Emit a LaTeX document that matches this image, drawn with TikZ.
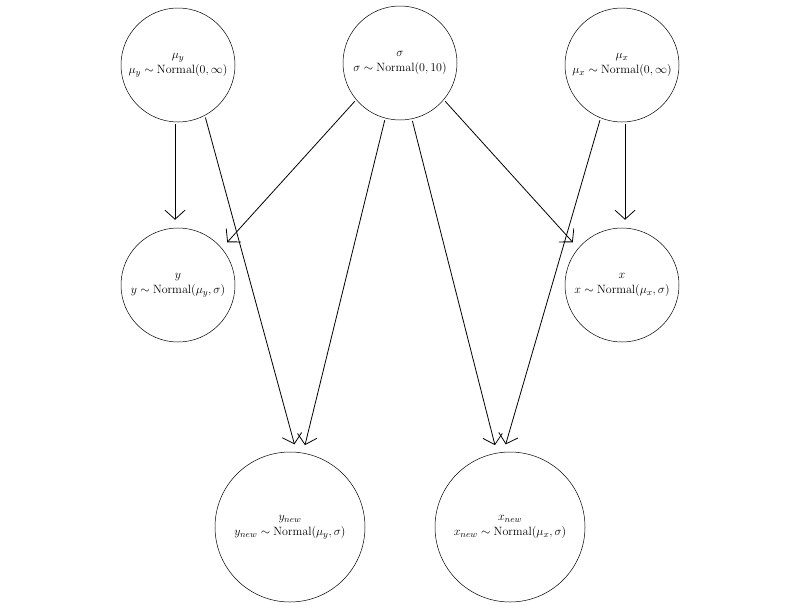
\documentclass[tikz,border=0pt]{standalone}
\usetikzlibrary{arrows.meta}
\begin{document}
\begin{tikzpicture}[x=1pt,y=-1pt,
  v/.style={circle,draw,line width=0.5pt,inner sep=0pt,align=center,font=\fontsize{13}{15}\selectfont},
  sm/.style={minimum size=114pt},
  lg/.style={minimum size=150pt},
  e/.style={line width=0.8pt,-{Straight Barb[length=9pt,width=20pt]},shorten >=8pt,shorten <=2pt}]
\useasboundingbox (0,0) rectangle (800,608);
\node[v,sm] (muy) at (178,65) {$\mu_y$\\$\mu_y\sim\mathrm{Normal}(0,\infty)$};
\node[v,sm] (s) at (400,63) {$\sigma$\\$\sigma\sim\mathrm{Normal}(0,10)$};
\node[v,sm] (mux) at (622,65) {$\mu_x$\\$\mu_x\sim\mathrm{Normal}(0,\infty)$};
\node[v,sm] (y) at (178,285) {$y$\\$y\sim\mathrm{Normal}(\mu_y,\sigma)$};
\node[v,sm] (x) at (622,285) {$x$\\$x\sim\mathrm{Normal}(\mu_x,\sigma)$};
\node[v,lg] (yn) at (290,527) {$y_{new}$\\$y_{new}\sim\mathrm{Normal}(\mu_y,\sigma)$};
\node[v,lg] (xn) at (510,527) {$x_{new}$\\$x_{new}\sim\mathrm{Normal}(\mu_x,\sigma)$};
\draw[e] ([xshift=-3pt]muy.south) -- ([xshift=-3pt]y.north);
\draw[e] (muy.-62) -- (yn.85);
\draw[e] (s.-140) -- (y.40);
\draw[e] (s.-105) -- (yn.80);
\draw[e] (s.-40) -- (x.140);
\draw[e] (s.-78) -- (xn.100);
\draw[e] ([xshift=3pt]mux.south) -- ([xshift=3pt]x.north);
\draw[e] (mux.-112) -- (xn.95);
\end{tikzpicture}
\end{document}
